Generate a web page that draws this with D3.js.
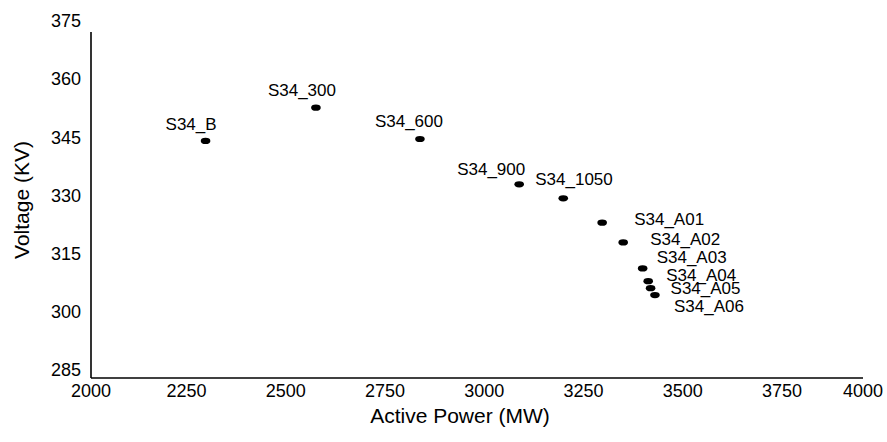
<!DOCTYPE html>
<html>
<head>
<meta charset="utf-8">
<script src="https://cdn.jsdelivr.net/npm/d3@7"></script>
<style>
  html, body { margin: 0; padding: 0; background: #fff; }
  svg { display: block; font-family: "Liberation Sans", Arial, Helvetica, sans-serif; }
</style>
</head>
<body>
<svg id="chart" width="887" height="442"></svg>
<script>
// ---- data ----
const names = ["S34_B", "S34_300", "S34_600", "S34_900", "S34_1050",
               "S34_A01", "S34_A02", "S34_A03", "S34_A04", "S34_A05", "S34_A06"];
const activePower = [2298, 2576, 2838, 3088, 3199, 3297, 3350, 3399, 3413, 3419, 3430];
const voltage = [343.9, 352.5, 344.4, 332.7, 329.1, 322.8, 317.7, 311.0, 307.7, 305.9, 304.1];
const xTicks = [2000, 2250, 2500, 2750, 3000, 3250, 3500, 3750, 4000];
const yTicks = [285, 300, 315, 330, 345, 360, 375];
const xTitle = "Active Power (MW)";
const yTitle = "Voltage (KV)";

// ---- layout (label offsets in px relative to each point) ----
const labelOffsets = [[-40, -11], [-48, -12], [-45, -12], [-62, -9], [-28, -13],
                      [32, 2], [27, 3], [14, -5], [18, 0], [20, 6], [19, 17]];
const frame = { left: 91, right: 863, top: 32, bottom: 378 };

const svg = d3.select("#chart");

const x = d3.scaleLinear().domain([2000, 4000]).range([87.25, 881.25]);
const y = d3.scaleLinear().domain([300, 345]).range([311, 136.7]);

// axis lines
svg.append("line")
  .attr("x1", frame.left).attr("x2", frame.left)
  .attr("y1", frame.top).attr("y2", frame.bottom)
  .attr("stroke", "#000").attr("stroke-width", 1.6);
svg.append("line")
  .attr("x1", frame.left).attr("x2", frame.right)
  .attr("y1", frame.bottom).attr("y2", frame.bottom)
  .attr("stroke", "#000").attr("stroke-width", 1.6);

// x axis labels
const gx = svg.append("g").attr("transform", `translate(0,${frame.bottom})`)
  .call(d3.axisBottom(x).tickValues(xTicks).tickSize(0).tickFormat(d3.format("d")));
gx.select(".domain").remove();
gx.selectAll(".tick text")
  .attr("y", 0).attr("dy", 19)
  .attr("font-size", 18).attr("fill", "#000")
  .attr("font-family", "Liberation Sans, Arial, sans-serif");
// keep end labels within the frame
gx.selectAll(".tick").attr("transform", d => {
  const px = Math.max(frame.left, Math.min(frame.right, x(d)));
  return `translate(${px},0)`;
});

// y axis labels
const gy = svg.append("g").attr("transform", `translate(${frame.left},0)`)
  .call(d3.axisLeft(y).tickValues(yTicks).tickSize(0).tickFormat(d3.format("d")));
gy.select(".domain").remove();
gy.selectAll(".tick text")
  .attr("x", -10).attr("dy", "0.35em")
  .attr("font-size", 18).attr("fill", "#000")
  .attr("font-family", "Liberation Sans, Arial, sans-serif");

// points
const data = names.map((n, i) => ({ name: n, p: activePower[i], v: voltage[i], off: labelOffsets[i] }));
svg.append("g").selectAll("ellipse").data(data).join("ellipse")
  .attr("cx", d => x(d.p)).attr("cy", d => y(d.v))
  .attr("rx", 4.8).attr("ry", 3.1)
  .attr("fill", "#000");

svg.append("g").selectAll("text").data(data).join("text")
  .attr("x", d => x(d.p) + d.off[0])
  .attr("y", d => y(d.v) + d.off[1])
  .attr("font-size", 17).attr("fill", "#000")
  .text(d => d.name);

// titles
svg.append("text")
  .attr("x", 460).attr("y", 423)
  .attr("text-anchor", "middle").attr("font-size", 21).attr("fill", "#000")
  .text(xTitle);
svg.append("text")
  .attr("transform", `translate(29,200) rotate(-90)`)
  .attr("text-anchor", "middle").attr("font-size", 21).attr("fill", "#000")
  .text(yTitle);
</script>
</body>
</html>
